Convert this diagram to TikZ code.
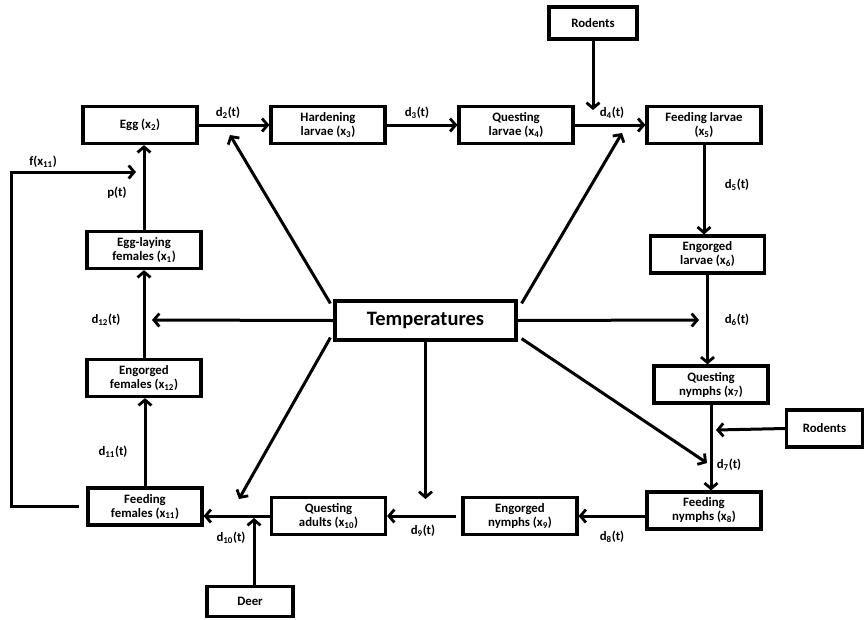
\documentclass[tikz,border=0pt]{standalone}
\usepackage{fontspec}
\setmainfont{Carlito}
\usetikzlibrary{arrows.meta}
\newcommand{\sbs}[1]{\textsubscript{#1}}
\begin{document}
\begin{tikzpicture}[x=1pt,y=-1pt,
  box/.style={draw, line width=3.2pt, minimum width=114pt, minimum height=37pt, inner sep=1pt, align=center, font=\bfseries\fontsize{12.8}{14}\selectfont},
  arr/.style={line width=3pt, -{Straight Barb[length=5.5pt,width=13pt,line width=2.8pt]}},
  lab/.style={font=\bfseries\fontsize{12.8}{14}\selectfont, inner sep=1pt}]
\useasboundingbox (0,0) rectangle (864,619);
% boxes
\node[box] (egg) at (140,125) {Egg (x\sbs{2})};
\node[box] (hl) at (328,125) {Hardening\\larvae (x\sbs{3})};
\node[box] (ql) at (516,125) {Questing\\larvae (x\sbs{4})};
\node[box] (fl) at (704,125) {Feeding larvae\\(x\sbs{5})};
\node[box, minimum width=88pt, minimum height=32pt] (rod1) at (593,23) {Rodents};
\node[box] (el) at (707.5,254.5) {Engorged\\larvae (x\sbs{6})};
\node[box] (qn) at (711,384.5) {Questing\\nymphs (x\sbs{7})};
\node[box, minimum width=76pt] (rod2) at (824.5,428.5) {Rodents};
\node[box] (fn) at (704,510.5) {Feeding\\nymphs (x\sbs{8})};
\node[box] (en) at (520,516) {Engorged\\nymphs (x\sbs{9})};
\node[box] (qa) at (328.5,516) {Questing\\adults (x\sbs{10})};
\node[box] (ff) at (145,506.5) {Feeding\\females (x\sbs{11})};
\node[box] (ef) at (144,378) {Engorged\\females (x\sbs{12})};
\node[box] (elf) at (144,250) {Egg-laying\\females (x\sbs{1})};
\node[box, minimum width=86pt, minimum height=30pt] (deer) at (250,601.5) {Deer};
\node[box, minimum width=181pt, minimum height=39pt, font=\bfseries\fontsize{20.5}{24}\selectfont] (T) at (425.5,320.5) {Temperatures};
% free ends
\coordinate (t1) at (230,135);
\coordinate (t2) at (622,133);
\coordinate (t3) at (699,320);
\coordinate (t4) at (152,320);
\coordinate (t5) at (707,463);
\coordinate (t6) at (425.5,499);
\coordinate (t7) at (239,499);
\coordinate (r1tip) at (593,110);
\coordinate (r2tip) at (716,430);
\coordinate (dtip) at (254,518);
\coordinate (lc) at (11,172);
\coordinate (le) at (136,172);
% chain
\draw[arr] (egg.east) -- (hl.west);
\draw[arr] (hl.east) -- (ql.west);
\draw[arr] (ql.east) -- (fl.west);
\draw[arr] (rod1.south) -- (r1tip);
\draw[arr] (fl.south) -- (fl.south |- el.north);
\draw[arr] (el.south) -- (el.south |- qn.north);
\draw[arr] (qn.south) -- (qn.south |- fn.north);
\draw[arr] (rod2.west) -- (r2tip);
\draw[arr] (fn.west |- en) -- (en.east);
\draw[arr] ([xshift=-5pt]en.west) -- (qa.east);
\draw[arr] (qa.west) -- (qa.west -| ff.east);
\draw[arr] (deer.north -| dtip) -- (dtip);
\draw[arr] (ff.north) -- (ff.north |- ef.south);
\draw[arr] (ef.north) -- (ef.north |- elf.south);
\draw[arr] (elf.north) -- (elf.north |- egg.south);
\draw[arr] ([xshift=-7pt]ff.west) -| (lc) -- (le);
% temperature arrows
\draw[arr] ([shift={(-3,4)}]T.north west) -- (t1);
\draw[arr] ([shift={(4,4)}]T.north east) -- (t2);
\draw[arr] (T.east) -- (t3);
\draw[arr] (T.west) -- (t4);
\draw[arr] ([shift={(4,-3)}]T.south east) -- (t5);
\draw[arr] (T.south) -- (t6);
\draw[arr] ([shift={(-3,-4)}]T.south west) -- (t7);
% labels
\node[lab] (d2) at (228,113) {d\sbs{2}(t)};
\node[lab] (d3) at (417,113) {d\sbs{3}(t)};
\node[lab] (d4) at (612,113) {d\sbs{4}(t)};
\node[lab] (d5) at (737,185) {d\sbs{5}(t)};
\node[lab] (d6) at (737,320) {d\sbs{6}(t)};
\node[lab] (d7) at (729,465) {d\sbs{7}(t)};
\node[lab] (d8) at (612,537) {d\sbs{8}(t)};
\node[lab] (d9) at (423,531) {d\sbs{9}(t)};
\node[lab] (d10) at (231,538) {d\sbs{10}(t)};
\node[lab] (d11) at (113,452) {d\sbs{11}(t)};
\node[lab] (d12) at (106,320) {d\sbs{12}(t)};
\node[lab] (pt) at (117,193) {p(t)};
\node[lab] (fx) at (43,162) {f(x\sbs{11})};
\end{tikzpicture}
\end{document}
